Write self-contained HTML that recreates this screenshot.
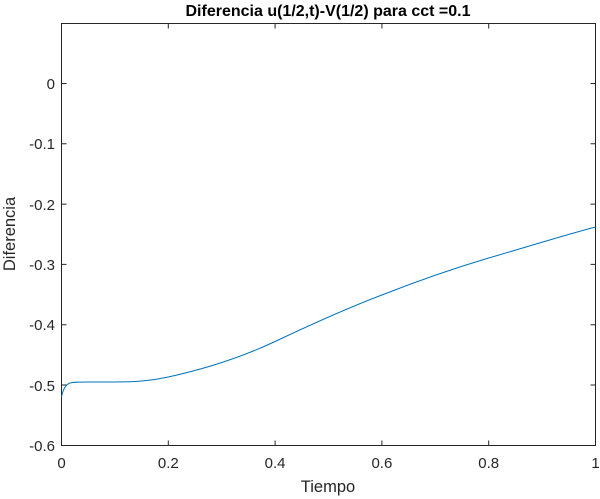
<!DOCTYPE html>
<html><head><meta charset="utf-8"><style>body{margin:0;background:#fff}svg{display:block}text{font-family:"Liberation Sans",Arial,sans-serif}</style></head><body>
<svg width="600" height="499" xmlns="http://www.w3.org/2000/svg">
<rect width="600" height="499" fill="#fff"/>
<g stroke="#262626" stroke-width="1" fill="none">
<path d="M61.5 23.5V445.5H595.5V23.5Z"/>
</g>
<g stroke="#262626" stroke-width="1">
<path d="M61.5 445.5v-5M168.3 445.5v-5M275.1 445.5v-5M381.9 445.5v-5M488.7 445.5v-5M595.5 445.5v-5"/>
<path d="M168.3 23.5v5M275.1 23.5v5M381.9 23.5v5M488.7 23.5v5"/>
<path d="M61.5 83.5h5M61.5 143.8h5M61.5 204.1h5M61.5 264.4h5M61.5 324.7h5M61.5 385h5"/>
<path d="M595.5 83.5h-5M595.5 143.8h-5M595.5 204.1h-5M595.5 264.4h-5M595.5 324.7h-5M595.5 385h-5"/>
</g>
<g font-size="15" fill="#262626" text-anchor="middle">
<text x="61.5" y="468">0</text><text x="168.3" y="468">0.2</text><text x="275.1" y="468">0.4</text><text x="381.9" y="468">0.6</text><text x="488.7" y="468">0.8</text><text x="595.5" y="468">1</text>
</g>
<g font-size="15" fill="#262626" text-anchor="end">
<text x="55" y="89">0</text><text x="55" y="149">-0.1</text><text x="55" y="210">-0.2</text><text x="55" y="270">-0.3</text><text x="55" y="330">-0.4</text><text x="55" y="391">-0.5</text><text x="55" y="451">-0.6</text>
</g>
<text x="328" y="492" font-size="16.5" fill="#262626" text-anchor="middle">Tiempo</text>
<text x="0" y="0" font-size="16.5" fill="#262626" text-anchor="middle" transform="translate(15 234) rotate(-90)">Diferencia</text>
<text x="328" y="16" font-size="16" font-weight="bold" fill="#000" text-anchor="middle">Diferencia u(1/2,t)-V(1/2) para cct =0.1</text>
<path fill="none" stroke="#0072bd" stroke-width="1" d="M61.5 397 C63 390 65 385 70 383 C74 382 78 382 90 382 L115 382 C135 382 150 381 168.3 377 C205 369 240 358 275.1 341.5 C310 325 345 309 381.9 295 C420 280 455 268 488.7 258 C530 246 565 235 595.5 227"/>
</svg>
</body></html>
